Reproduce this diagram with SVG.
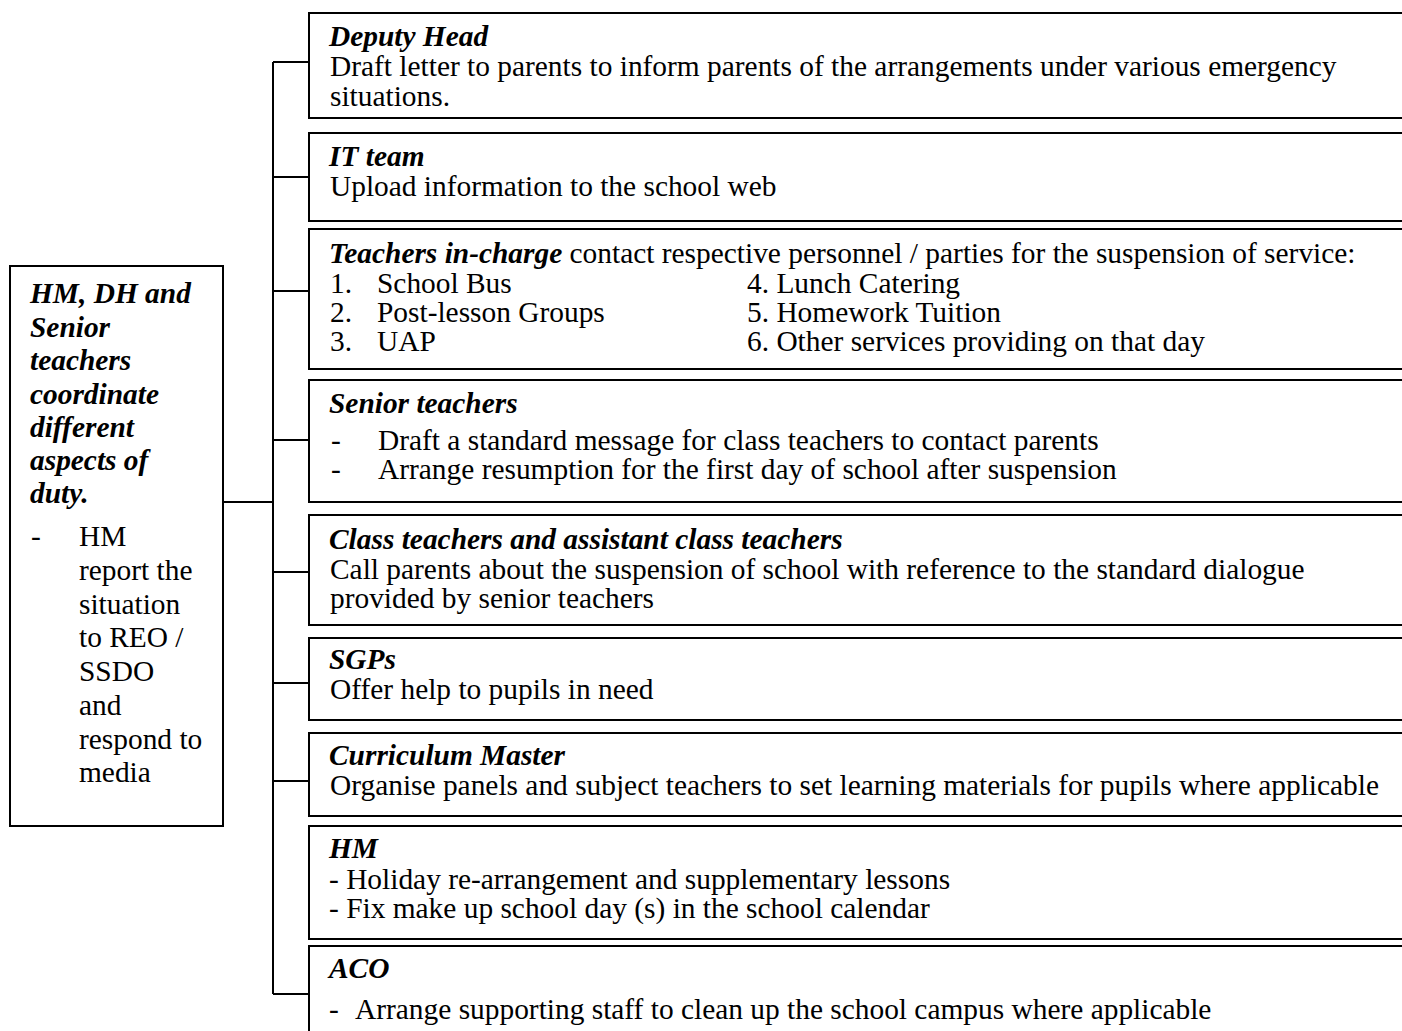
<svg xmlns="http://www.w3.org/2000/svg" width="1402" height="1031" viewBox="0 0 1402 1031">
  <style>
    .box { fill: #ffffff; stroke: #000000; stroke-width: 2; }
    .link { fill: none; stroke: #000000; stroke-width: 2; }
    text { font-family: "Liberation Serif", "Times New Roman", serif; font-size: 29.4px; fill: #000000; }
    .head { font-weight: bold; font-style: italic; }
  </style>
  <rect x="0" y="0" width="1402" height="1031" fill="#ffffff"/>

  <!-- connectors: trunk, feed from the coordinator box, and branches -->
  <g id="connectors">
    <line class="link" x1="223" y1="502" x2="273" y2="502"/>
    <line class="link" x1="273" y1="62" x2="273" y2="994"/>
    <line class="link" x1="273" y1="62" x2="309" y2="62"/>
    <line class="link" x1="273" y1="177" x2="309" y2="177"/>
    <line class="link" x1="273" y1="291" x2="309" y2="291"/>
    <line class="link" x1="273" y1="440" x2="309" y2="440"/>
    <line class="link" x1="273" y1="572" x2="309" y2="572"/>
    <line class="link" x1="273" y1="683" x2="309" y2="683"/>
    <line class="link" x1="273" y1="781" x2="309" y2="781"/>
    <line class="link" x1="273" y1="994" x2="309" y2="994"/>
  </g>

  <g id="coordinator">
    <rect class="box" x="10" y="266" width="213" height="560"/>
    <text class="head" x="30" y="303">HM, DH and</text>
    <text class="head" x="30" y="337">Senior</text>
    <text class="head" x="30" y="370">teachers</text>
    <text class="head" x="30" y="404">coordinate</text>
    <text class="head" x="30" y="437">different</text>
    <text class="head" x="30" y="470">aspects of</text>
    <text class="head" x="30" y="503">duty.</text>
    <text x="31" y="546">-</text>
    <text x="79" y="546">HM</text>
    <text x="79" y="580">report the</text>
    <text x="79" y="614">situation</text>
    <text x="79" y="647">to REO /</text>
    <text x="79" y="681">SSDO</text>
    <text x="79" y="715">and</text>
    <text x="79" y="749">respond to</text>
    <text x="79" y="782">media</text>
  </g>

  <g id="deputy-head">
    <rect class="box" x="309" y="13" width="1120" height="105"/>
    <text class="head" x="329" y="46">Deputy Head</text>
    <text x="330" y="76">Draft letter to parents to inform parents of the arrangements under various emergency</text>
    <text x="330" y="106">situations.</text>
  </g>

  <g id="it-team">
    <rect class="box" x="309" y="133" width="1120" height="88"/>
    <text class="head" x="329" y="166">IT team</text>
    <text x="330" y="196">Upload information to the school web</text>
  </g>

  <g id="teachers-in-charge">
    <rect class="box" x="309" y="229" width="1120" height="140"/>
    <text x="329" y="263"><tspan class="head">Teachers in-charge</tspan> contact respective personnel / parties for the suspension of service:</text>
    <text x="330" y="293">1.</text><text x="377" y="293">School Bus</text>
    <text x="330" y="322">2.</text><text x="377" y="322">Post-lesson Groups</text>
    <text x="330" y="351">3.</text><text x="377" y="351">UAP</text>
    <text x="747" y="293">4. Lunch Catering</text>
    <text x="747" y="322">5. Homework Tuition</text>
    <text x="747" y="351">6. Other services providing on that day</text>
  </g>

  <g id="senior-teachers">
    <rect class="box" x="309" y="380" width="1120" height="122"/>
    <text class="head" x="329" y="413">Senior teachers</text>
    <text x="331" y="450">-</text>
    <text x="378" y="450">Draft a standard message for class teachers to contact parents</text>
    <text x="331" y="479">-</text>
    <text x="378" y="479">Arrange resumption for the first day of school after suspension</text>
  </g>

  <g id="class-teachers">
    <rect class="box" x="309" y="515" width="1120" height="110"/>
    <text class="head" x="329" y="549">Class teachers and assistant class teachers</text>
    <text x="330" y="579">Call parents about the suspension of school with reference to the standard dialogue</text>
    <text x="330" y="608">provided by senior teachers</text>
  </g>

  <g id="sgps">
    <rect class="box" x="309" y="638" width="1120" height="82"/>
    <text class="head" x="329" y="669">SGPs</text>
    <text x="330" y="699">Offer help to pupils in need</text>
  </g>

  <g id="curriculum-master">
    <rect class="box" x="309" y="733" width="1120" height="83"/>
    <text class="head" x="329" y="765">Curriculum Master</text>
    <text x="330" y="795">Organise panels and subject teachers to set learning materials for pupils where applicable</text>
  </g>

  <g id="hm">
    <rect class="box" x="309" y="826" width="1120" height="113"/>
    <text class="head" x="329" y="858">HM</text>
    <text x="329" y="889">- Holiday re-arrangement and supplementary lessons</text>
    <text x="329" y="918">- Fix make up school day (s) in the school calendar</text>
  </g>

  <g id="aco">
    <rect class="box" x="309" y="946" width="1120" height="120"/>
    <text class="head" x="329" y="978">ACO</text>
    <text x="329" y="1019">-</text>
    <text x="355" y="1019">Arrange supporting staff to clean up the school campus where applicable</text>
  </g>
</svg>
